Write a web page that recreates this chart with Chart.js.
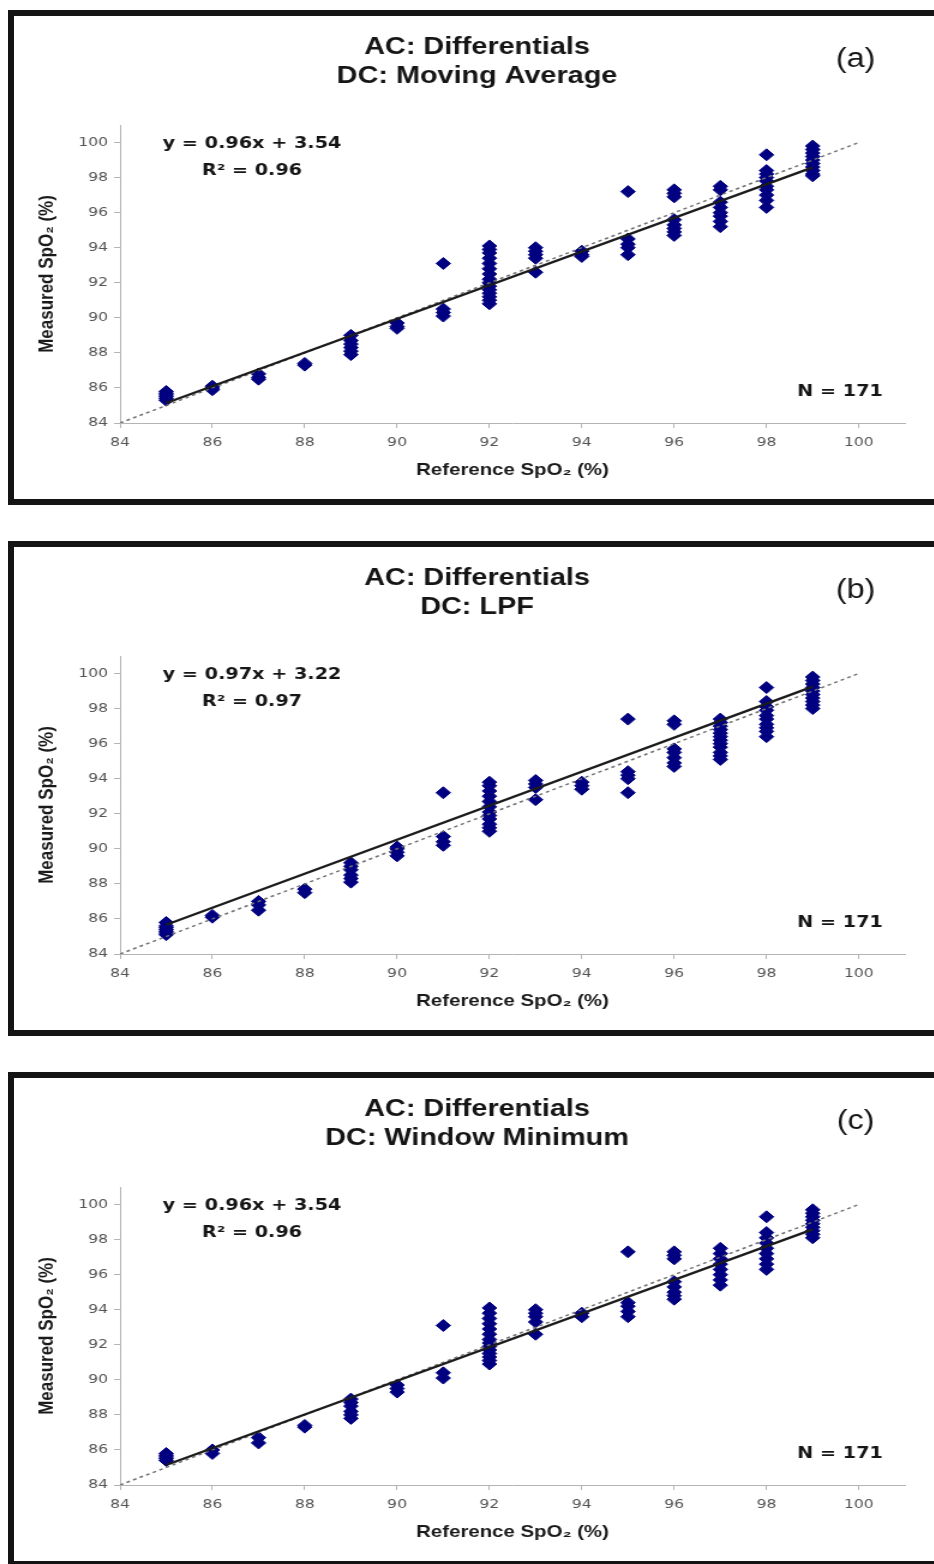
<!DOCTYPE html>
<html>
<head>
<meta charset="utf-8">
<title>SpO2 comparison</title>
<script src="https://cdn.jsdelivr.net/npm/chart.js@4.4.1/dist/chart.umd.min.js"></script>
<style>
  html, body { margin: 0; padding: 0; background: #fff; width: 934px; height: 1564px; overflow: hidden; position: relative; }
  .frame { position: absolute; left: 8px; width: 940px; height: 483px; border: 6px solid #141414; }
  canvas.panel { position: absolute; left: 0; transform-origin: 0 0; transform: scaleX(1.2); }
</style>
</head>
<body>
<div class="frame" style="top:10px"></div>
<div class="frame" style="top:541px"></div>
<div class="frame" style="top:1072px"></div>
<canvas id="panel-a" class="panel" width="779" height="531" style="top:0px"></canvas>
<canvas id="panel-b" class="panel" width="779" height="531" style="top:531px"></canvas>
<canvas id="panel-c" class="panel" width="779" height="531" style="top:1062px"></canvas>
<script>
"use strict";

// reference SpO2 levels (x) and axis ticks
const refSpO2 = [85, 86, 87, 88, 89, 90, 91, 92, 93, 94, 95, 96, 97, 98, 99];
const axisTicks = [84, 86, 88, 90, 92, 94, 96, 98, 100];

// measured SpO2 per reference level, DC = moving average
const measuredMovingAvg = [
    [85.3, 85.4, 85.5, 85.6, 85.7, 85.8],
    [85.9, 86.0, 86.1],
    [86.5, 86.6, 86.8],
    [87.3, 87.4],
    [87.9, 88.1, 88.3, 88.5, 88.7, 89.0],
    [89.4, 89.5, 89.7],
    [90.1, 90.3, 90.5, 93.1],
    [90.8, 91.0, 91.2, 91.4, 91.6, 91.8, 92.0, 92.2, 92.5, 92.8, 93.1, 93.4, 93.7, 93.9, 94.1],
    [92.6, 93.4, 93.6, 93.8, 94.0],
    [93.5, 93.6, 93.8],
    [93.6, 94.0, 94.2, 94.5, 97.2],
    [94.7, 94.9, 95.1, 95.3, 95.6, 96.9, 97.1, 97.3],
    [95.2, 95.5, 95.8, 96.0, 96.3, 96.6, 97.3, 97.5],
    [96.3, 96.7, 97.0, 97.3, 97.5, 97.8, 98.0, 98.2, 98.4, 99.3],
    [98.1, 98.2, 98.4, 98.6, 98.8, 99.0, 99.2, 99.4, 99.6, 99.8]
];

// DC = low pass filter
const measuredLpf = [
    [85.1, 85.2, 85.3, 85.4, 85.5, 85.6, 85.8],
    [86.1, 86.2],
    [86.5, 86.8, 87.0],
    [87.5, 87.7],
    [88.1, 88.3, 88.5, 88.8, 89.0, 89.2],
    [89.6, 89.8, 90.0, 90.1],
    [90.2, 90.4, 90.7, 93.2],
    [91.0, 91.2, 91.4, 91.7, 91.9, 92.1, 92.4, 92.7, 93.0, 93.3, 93.6, 93.8],
    [92.8, 93.5, 93.7, 93.9],
    [93.4, 93.6, 93.8],
    [93.2, 94.0, 94.2, 94.4, 97.4],
    [94.7, 94.9, 95.2, 95.5, 95.7, 97.1, 97.3],
    [95.1, 95.3, 95.5, 95.8, 96.0, 96.2, 96.4, 96.6, 96.8, 97.0, 97.2, 97.4],
    [96.4, 96.7, 96.9, 97.1, 97.4, 97.6, 97.9, 98.1, 98.4, 99.2],
    [98.0, 98.2, 98.4, 98.6, 98.8, 99.0, 99.2, 99.4, 99.6, 99.8]
];

// DC = window minimum
const measuredWindowMin = [
    [85.4, 85.5, 85.6, 85.7, 85.8],
    [85.8, 86.0],
    [86.4, 86.7],
    [87.3, 87.4],
    [87.8, 88.0, 88.2, 88.5, 88.7, 88.9],
    [89.3, 89.5, 89.7],
    [90.1, 90.4, 93.1],
    [90.9, 91.1, 91.3, 91.5, 91.7, 91.9, 92.1, 92.3, 92.6, 92.9, 93.2, 93.5, 93.8, 94.1],
    [92.6, 93.3, 93.6, 93.8, 94.0],
    [93.6, 93.8],
    [93.6, 93.9, 94.2, 94.4, 97.3],
    [94.6, 94.8, 95.0, 95.3, 95.6, 96.9, 97.1, 97.3],
    [95.4, 95.7, 96.0, 96.3, 96.6, 96.9, 97.2, 97.5],
    [96.3, 96.6, 96.9, 97.2, 97.5, 97.8, 98.1, 98.4, 99.3],
    [98.1, 98.3, 98.5, 98.7, 98.9, 99.1, 99.3, 99.5, 99.7]
];

const panelIds = ["panel-a", "panel-b", "panel-c"];
const panelMeasured = [measuredMovingAvg, measuredLpf, measuredWindowMin];
const panelTitles = [
    ["AC: Differentials", "DC: Moving Average"],
    ["AC: Differentials", "DC: LPF"],
    ["AC: Differentials", "DC: Window Minimum"]
];
const panelTags = ["(a)", "(b)", "(c)"];
const fitSlopes = [0.96, 0.97, 0.96];
const fitIntercepts = [3.54, 3.22, 3.54];
const fitR2 = [0.96, 0.97, 0.96];
const sampleCounts = [171, 171, 171];

const ARIAL = '"Liberation Sans", Arial, "DejaVu Sans", sans-serif';
const VERDANA = '"DejaVu Sans", Verdana, sans-serif';
const AXIS_GREY = '#b4b4b4';


// titles, panel tag, fit equation and sample count
function panelText(i) {
    return {
        id: 'panelText',
        afterDraw(chart) {
            const ctx = chart.ctx;
            ctx.save();
            ctx.fillStyle = '#151515';
            ctx.textAlign = 'center';
            ctx.textBaseline = 'middle';

            ctx.font = 'bold 24px ' + ARIAL;
            ctx.fillText(panelTitles[i][0], 397.5, 47);
            ctx.fillText(panelTitles[i][1], 397.5, 76);

            ctx.font = '27px ' + ARIAL;
            ctx.fillText(panelTags[i], 713, 60);

            ctx.font = 'bold 16px ' + VERDANA;
            ctx.fillText('y = ' + fitSlopes[i].toFixed(2) + 'x + ' + fitIntercepts[i].toFixed(2), 210, 143.5);
            ctx.fillText('R\u00B2 = ' + fitR2[i].toFixed(2), 210, 170.5);
            ctx.fillText('N = ' + sampleCounts[i], 700, 392);
            ctx.restore();
        }
    };
}


function axisOptions(titleText, isX) {
    return {
        type: 'linear',
        min: 84,
        max: 101,
        afterBuildTicks: s => { s.ticks = axisTicks.map(v => ({ value: v })); },
        afterFit: s => {
            if (isX) s.height = 60;
            else s.width = 100;
        },
        grid: {
            display: true,
            drawOnChartArea: false,
            drawTicks: true,
            tickLength: 5,
            color: AXIS_GREY,
            lineWidth: 1
        },
        border: { display: true, color: AXIS_GREY, width: 1 },
        ticks: {
            autoSkip: false,
            maxRotation: 0,
            padding: isX ? 7 : 5,
            color: '#555',
            font: { family: VERDANA, size: 13 }
        },
        title: {
            display: true,
            text: titleText,
            color: '#1a1a1a',
            font: { family: ARIAL, size: 17, weight: 'bold' },
            padding: isX ? { top: 0, bottom: 2 } : { top: 29, bottom: 0 }
        }
    };
}


function buildPanel(i) {
    const points = [];
    refSpO2.forEach((ref, k) => {
        panelMeasured[i][k].forEach(v => points.push({ x: ref, y: v }));
    });

    const xFirst = refSpO2[0];
    const xLast = refSpO2[refSpO2.length - 1];
    const fitLine = [xFirst, xLast].map(x => ({ x: x, y: fitSlopes[i] * x + fitIntercepts[i] }));
    const identity = [axisTicks[0], axisTicks[axisTicks.length - 1]].map(v => ({ x: v, y: v }));

    const ctx = document.getElementById(panelIds[i]).getContext('2d');
    return new Chart(ctx, {
        type: 'scatter',
        data: {
            datasets: [{
                label: 'Linear fit',
                data: fitLine,
                showLine: true,
                borderColor: '#1c1c1c',
                borderWidth: 2.3,
                pointRadius: 0
            }, {
                label: 'y = x',
                data: identity,
                showLine: true,
                borderColor: '#707070',
                borderWidth: 1.5,
                borderDash: [3, 3],
                pointRadius: 0
            }, {
                label: 'Measured',
                data: points,
                pointStyle: 'rectRot',
                pointRadius: 6,
                backgroundColor: '#000080',
                borderColor: '#000080',
                borderWidth: 1
            }]
        },
        options: {
            responsive: false,
            animation: false,
            events: [],
            layout: { padding: { left: 0, top: 125, right: 24.8, bottom: 48 } },
            plugins: {
                legend: { display: false },
                tooltip: { enabled: false }
            },
            scales: {
                x: axisOptions('Reference SpO\u2082 (%)', true),
                y: axisOptions('Measured SpO\u2082 (%)', false)
            }
        },
        plugins: [panelText(i)]
    });
}

panelIds.forEach((id, i) => buildPanel(i));
</script>
</body>
</html>
